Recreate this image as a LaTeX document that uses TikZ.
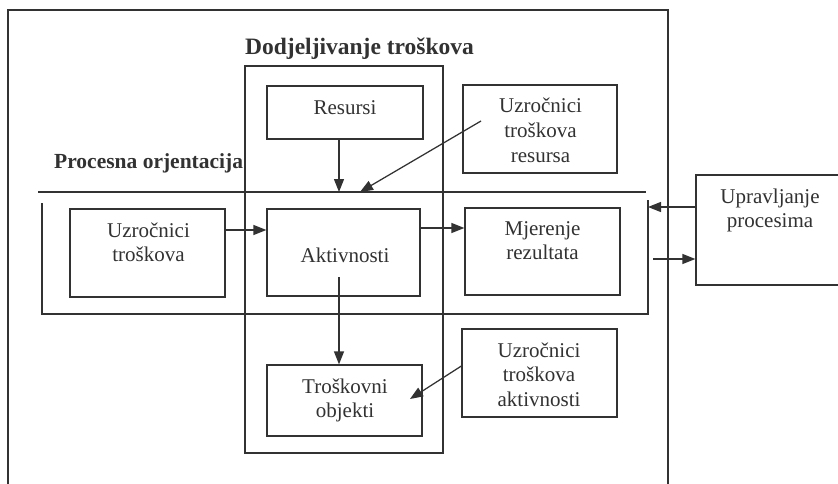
\documentclass[tikz,border=0pt]{standalone}
\usepackage{fontspec}
\setmainfont{Liberation Serif}
\usetikzlibrary{arrows.meta,calc}
\definecolor{ink}{RGB}{50,50,50}
\begin{document}
\begin{tikzpicture}[x=1pt,y=-1pt,
  frame/.style={draw=ink,line width=1.25pt},
  box/.style={draw=ink,line width=1.25pt,inner sep=0pt},
  txt/.style={font=\fontsize{21}{24.5}\selectfont,text=ink,inner sep=0pt,anchor=base},
  ttl/.style={font=\fontsize{21.5}{26}\selectfont\bfseries,text=ink,inner sep=0pt,anchor=base west},
  arr/.style={draw=ink,line width=1.25pt,-{Triangle[length=13pt,width=10pt]}}]
\useasboundingbox (0,0) rectangle (838,484);
\fill[white] (0,0) rectangle (838,484);
\clip (0,0) rectangle (838,484);
% outer frame (open at the bottom)
\draw[frame] (8,492) -- (8,10) -- (668,10) -- (668,492);
% column: cost assignment
\node[box,minimum width=198pt,minimum height=387pt] (col) at (344,259.5) {};
\node[ttl,font=\fontsize{23.5}{28}\selectfont\bfseries] (colt) at (245,55) {Dodjeljivanje troškova};
% process band
\draw[frame] (38,192) -- (646,192);
\draw[frame] (42,203) -- (42,314) -- (648,314) -- (648,200);
\node[ttl] (bandt) at (54,168) {Procesna orjentacija};
% boxes
\node[box,minimum width=156pt,minimum height=53pt] (res) at (345,112.5) {};
\node[box,minimum width=154pt,minimum height=88pt] (ures) at (540,129) {};
\node[box,minimum width=155pt,minimum height=88pt] (utr) at (147.5,253) {};
\node[box,minimum width=153pt,minimum height=87pt] (akt) at (343.5,252.5) {};
\node[box,minimum width=155pt,minimum height=87pt] (mje) at (542.5,251.5) {};
\node[box,minimum width=150pt,minimum height=110pt] (upr) at (771,230) {};
\node[box,minimum width=155pt,minimum height=71pt] (tro) at (344.5,400.5) {};
\node[box,minimum width=155pt,minimum height=88pt] (uakt) at (539.5,373) {};
% texts
\node[txt] (rest) at (345,115) {Resursi};
\node[txt] (urest1) at (540.5,113) {Uzročnici};
\node[txt] (urest2) at (540.5,137.5) {troškova};
\node[txt] (urest3) at (540.5,162) {resursa};
\node[txt] (utrt1) at (148.5,237) {Uzročnici};
\node[txt] (utrt2) at (148.5,261.5) {troškova};
\node[txt] (aktt) at (345,262) {Aktivnosti};
\node[txt] (mjet1) at (542.5,235) {Mjerenje};
\node[txt] (mjet2) at (542.5,259.5) {rezultata};
\node[txt] (uprt1) at (770,203) {Upravljanje};
\node[txt] (uprt2) at (770,227.5) {procesima};
\node[txt] (trot1) at (345,393) {Troškovni};
\node[txt] (trot2) at (345,417.5) {objekti};
\node[txt] (uaktt1) at (539,357) {Uzročnici};
\node[txt] (uaktt2) at (539,381.5) {troškova};
\node[txt] (uaktt3) at (539,406) {aktivnosti};
% connector end points
\coordinate (rin) at (339,192);
\coordinate (uin) at (360,192);
\coordinate (ures0) at (481,121);
\coordinate (bandr1) at (648,207);
\coordinate (bandr2) at (653,259);
\coordinate (akt0) at (339,277);
\coordinate (troin) at (410,399);
% connectors
\draw[arr] (res.south -| rin) -- (rin);
\draw[arr] (ures0) -- (uin);
\draw[arr] (utr.east |- 0,230) -- (akt.west |- 0,230);
\draw[arr] (akt.east |- 0,228) -- (mje.west |- 0,228);
\draw[arr] (upr.west |- bandr1) -- (bandr1);
\draw[arr] (bandr2) -- (upr.west |- bandr2);
\draw[arr] (akt0) -- (tro.north -| akt0);
\draw[arr] (uakt.west |- 0,366) -- (troin);
\end{tikzpicture}
\end{document}
